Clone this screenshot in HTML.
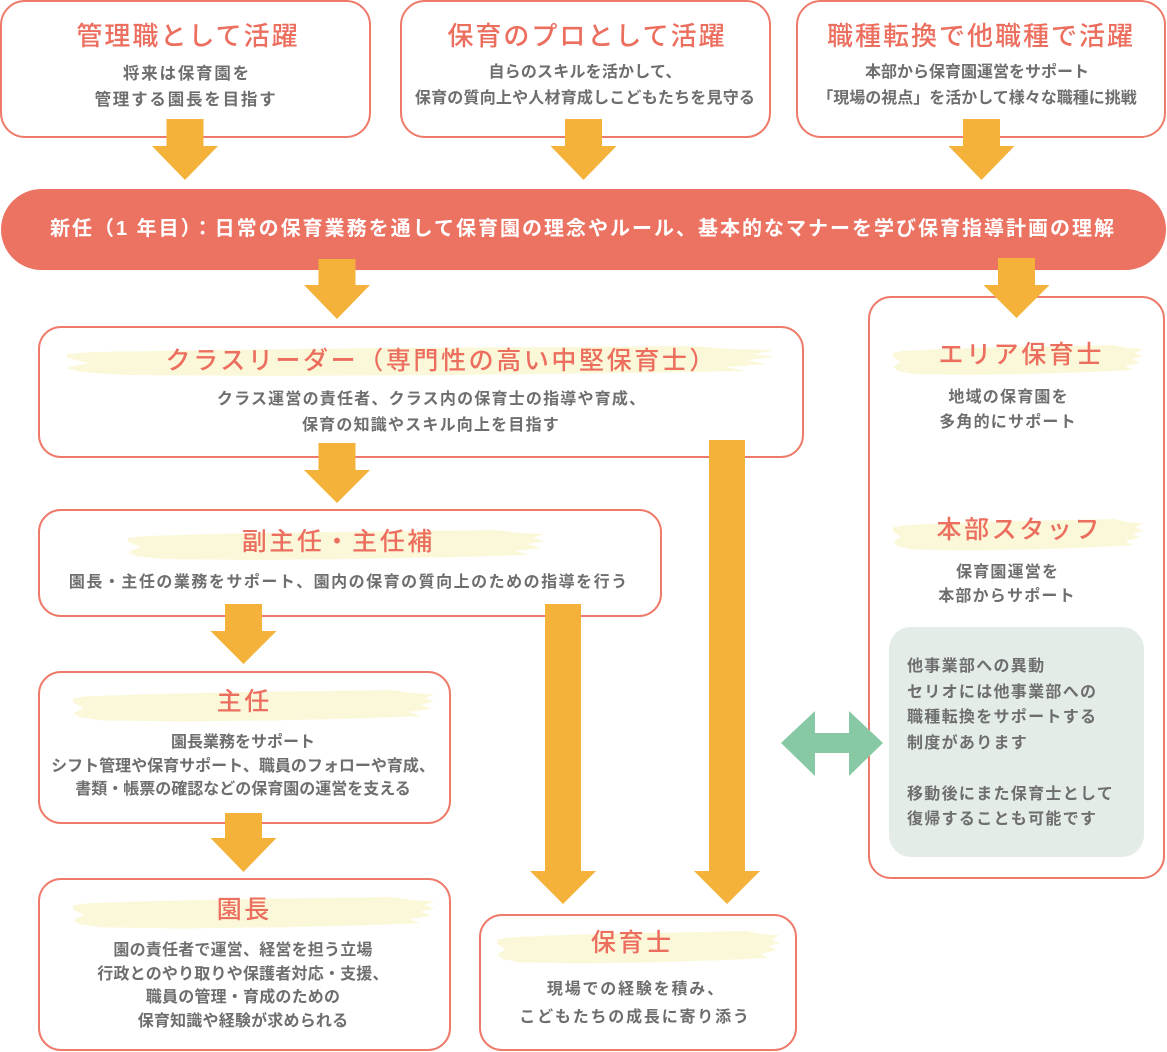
<!DOCTYPE html>
<html lang="ja">
<head>
<meta charset="utf-8">
<style>
html,body{margin:0;padding:0;background:#fff;}
body{width:1167px;height:1052px;position:relative;overflow:hidden;font-family:"Liberation Sans","Noto Sans CJK JP",sans-serif;}
svg{position:absolute;left:0;top:0;}
.c{position:absolute;white-space:nowrap;text-align:center;width:800px;}
.ttl{color:#EC6E5E;font-weight:500;}
.sub{color:#6e6e6e;font-weight:700;font-size:16px;}
</style>
</head>
<body>
<svg width="1167" height="1052" viewBox="0 0 1167 1052">
  <g fill="#fff" stroke="#EE7A6A" stroke-width="2">
    <rect x="1" y="1" width="369" height="136" rx="24"/>
    <rect x="401" y="1" width="369" height="136" rx="24"/>
    <rect x="797" y="1" width="368" height="136" rx="24"/>
    <rect x="39" y="327" width="764" height="130" rx="22"/>
    <rect x="39" y="510" width="622" height="106" rx="22"/>
    <rect x="39" y="672" width="411" height="151" rx="22"/>
    <rect x="39" y="879" width="411" height="171" rx="22"/>
    <rect x="480" y="915" width="316" height="135" rx="22"/>
    <rect x="869" y="297" width="295" height="581" rx="22"/>
  </g>
  <rect x="1" y="189" width="1165" height="81" rx="40.5" fill="#EC7262"/>
  <rect x="889" y="627" width="255" height="230" rx="22" fill="#E4ECE7"/>

  <!-- brush highlights -->
  <g fill="#FBF8DA">
    <path transform="translate(67,346) scale(7.08,1)" d="M0,8 L4,6 L20,4 L45,2 L70,1 L88,0 L94,3 L100,4 L97,8 L100,11 L96,14 L99,18 L93,21 L96,25 L80,27 L55,29 L30,30 L8,29 L2,26 L0,22 L3,17 L0,12 Z"/>
    <path transform="translate(128,530) scale(4.17,1)" d="M0,8 L4,6 L20,4 L45,2 L70,1 L88,0 L94,3 L100,4 L97,8 L100,11 L96,14 L99,18 L93,21 L96,25 L80,27 L55,29 L30,30 L8,29 L2,26 L0,22 L3,17 L0,12 Z"/>
    <path transform="translate(73,690) scale(3.62,1.05)" d="M0,8 L4,6 L20,4 L45,2 L70,1 L88,0 L94,3 L100,4 L97,8 L100,11 L96,14 L99,18 L93,21 L96,25 L80,27 L55,29 L30,30 L8,29 L2,26 L0,22 L3,17 L0,12 Z"/>
    <path transform="translate(73,897) scale(3.62,1.05)" d="M0,8 L4,6 L20,4 L45,2 L70,1 L88,0 L94,3 L100,4 L97,8 L100,11 L96,14 L99,18 L93,21 L96,25 L80,27 L55,29 L30,30 L8,29 L2,26 L0,22 L3,17 L0,12 Z"/>
    <path transform="translate(497,931) scale(2.83,1.08)" d="M0,8 L4,6 L20,4 L45,2 L70,1 L88,0 L94,3 L100,4 L97,8 L100,11 L96,14 L99,18 L93,21 L96,25 L80,27 L55,29 L30,30 L8,29 L2,26 L0,22 L3,17 L0,12 Z"/>
    <path transform="translate(893,345) scale(2.5,1)" d="M0,8 L4,6 L20,4 L45,2 L70,1 L88,0 L94,3 L100,4 L97,8 L100,11 L96,14 L99,18 L93,21 L96,25 L80,27 L55,29 L30,30 L8,29 L2,26 L0,22 L3,17 L0,12 Z"/>
    <path transform="translate(893,519) scale(2.5,1.05)" d="M0,8 L4,6 L20,4 L45,2 L70,1 L88,0 L94,3 L100,4 L97,8 L100,11 L96,14 L99,18 L93,21 L96,25 L80,27 L55,29 L30,30 L8,29 L2,26 L0,22 L3,17 L0,12 Z"/>
  </g>

  <!-- orange arrows -->
  <g fill="#F4B23A">
    <polygon points="166.5,119 203.5,119 203.5,146 218,146 185,180 152,146 166.5,146"/>
    <polygon points="565,119 602,119 602,146 616.5,146 583.5,180 550.5,146 565,146"/>
    <polygon points="963,119 1000,119 1000,146 1014.5,146 981.5,180 948.5,146 963,146"/>
    <polygon points="318.5,259 355.5,259 355.5,285 370,285 337,319 304,285 318.5,285"/>
    <polygon points="998,258 1035,258 1035,285 1049.5,285 1016.5,318 983.5,285 998,285"/>
    <polygon points="318.5,443 355.5,443 355.5,470 370,470 337,503 304,470 318.5,470"/>
    <polygon points="225,604 262,604 262,631 276.5,631 243.5,664 210.5,631 225,631"/>
    <polygon points="225,813 262,813 262,838 276.5,838 243.5,872 210.5,838 225,838"/>
    <polygon points="545,604 581,604 581,871 596,871 563,904 530,871 545,871"/>
    <polygon points="709,440 745,440 745,871 760,871 727,904 694,871 709,871"/>
  </g>
  <!-- green double arrow -->
  <polygon fill="#88C9A5" points="781,743 815,711 815,733 849,733 849,711 883,743 849,776 849,753 815,753 815,776"/>
</svg>

<!-- Top boxes -->
<div class="c ttl" style="left:-213px;top:21px;font-size:26px;line-height:30px;letter-spacing:2px;text-indent:2px;">管理職として活躍</div>
<div class="c sub" style="left:-214px;top:61px;font-size:16.5px;line-height:26px;letter-spacing:1.8px;text-indent:1.8px;">将来は保育園を<br>管理する園長を目指す</div>

<div class="c ttl" style="left:186px;top:21px;font-size:26px;line-height:30px;letter-spacing:2px;text-indent:2px;">保育のプロとして活躍</div>
<div class="c sub" style="left:185px;top:60px;line-height:26px;letter-spacing:0.2px;">自らのスキルを活かして、<br>保育の質向上や人材育成しこどもたちを見守る</div>

<div class="c ttl" style="left:580px;top:21px;font-size:26px;line-height:30px;letter-spacing:2px;text-indent:2px;">職種転換で他職種で活躍</div>
<div class="c sub" style="left:577px;top:60px;line-height:26px;">本部から保育園運営をサポート<br>「現場の視点」を活かして様々な職種に挑戦</div>

<!-- Banner -->
<div class="c" style="left:-118px;width:1400px;top:214px;font-size:20px;line-height:30px;font-weight:700;color:#fff;letter-spacing:2px;text-indent:2px;">新任（1 年目）：日常の保育業務を通して保育園の理念やルール、基本的なマナーを学び保育指導計画の理解</div>

<!-- Class leader -->
<div class="c ttl" style="left:40px;top:346px;font-size:25px;line-height:30px;letter-spacing:2.6px;text-indent:2.6px;">クラスリーダー（専門性の高い中堅保育士）</div>
<div class="c sub" style="left:31px;top:387px;line-height:26px;letter-spacing:1.2px;text-indent:1.2px;">クラス運営の責任者、クラス内の保育士の指導や育成、<br>保育の知識やスキル向上を目指す</div>

<!-- Vice -->
<div class="c ttl" style="left:-63px;top:527px;font-size:25px;line-height:30px;letter-spacing:2.6px;text-indent:2.6px;">副主任・主任補</div>
<div class="c sub" style="left:-52px;top:570px;line-height:26px;letter-spacing:1.5px;text-indent:1.5px;">園長・主任の業務をサポート、園内の保育の質向上のための指導を行う</div>

<!-- Shunin -->
<div class="c ttl" style="left:-157px;top:687px;font-size:25px;line-height:30px;letter-spacing:2.6px;text-indent:2.6px;">主任</div>
<div class="c sub" style="left:-157px;top:731px;line-height:23.5px;">園長業務をサポート<br>シフト管理や保育サポート、職員のフォローや育成、<br>書類・帳票の確認などの保育園の運営を支える</div>

<!-- Encho -->
<div class="c ttl" style="left:-157px;top:895px;font-size:25px;line-height:30px;letter-spacing:2.6px;text-indent:2.6px;">園長</div>
<div class="c sub" style="left:-157px;top:939px;line-height:23.7px;letter-spacing:0.2px;">園の責任者で運営、経営を担う立場<br>行政とのやり取りや保護者対応・支援、<br>職員の管理・育成のための<br>保育知識や経験が求められる</div>

<!-- Hoikushi -->
<div class="c ttl" style="left:231px;top:928px;font-size:25px;line-height:30px;letter-spacing:2.6px;text-indent:2.6px;">保育士</div>
<div class="c sub" style="left:235px;top:976px;line-height:28px;letter-spacing:1.8px;text-indent:1.8px;">現場での経験を積み、<br>こどもたちの成長に寄り添う</div>

<!-- Right box -->
<div class="c ttl" style="left:620px;top:340px;font-size:25px;line-height:30px;letter-spacing:2.6px;text-indent:2.6px;">エリア保育士</div>
<div class="c sub" style="left:608px;top:384.5px;line-height:25px;letter-spacing:1.2px;text-indent:1.2px;">地域の保育園を<br>多角的にサポート</div>

<div class="c ttl" style="left:618px;top:515px;font-size:25px;line-height:30px;letter-spacing:2.6px;text-indent:2.6px;">本部スタッフ</div>
<div class="c sub" style="left:607px;top:560.75px;line-height:24.5px;letter-spacing:1.2px;text-indent:1.2px;">保育園運営を<br>本部からサポート</div>

<div class="sub" style="position:absolute;left:907px;top:654.25px;line-height:25.5px;letter-spacing:1.3px;white-space:nowrap;">他事業部への異動<br>セリオには他事業部への<br>職種転換をサポートする<br>制度があります<br><br>移動後にまた保育士として<br>復帰することも可能です</div>

</body>
</html>
